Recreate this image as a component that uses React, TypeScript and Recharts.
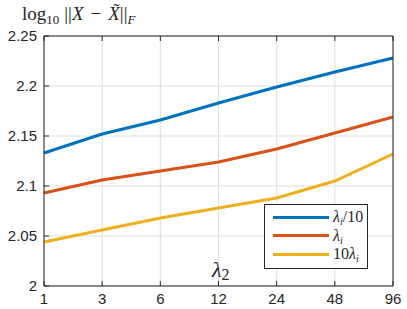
import React from 'react'
import {
  LineChart,
  Line,
  XAxis,
  YAxis,
  CartesianGrid,
} from 'recharts'

const categories = ['1', '3', '6', '12', '24', '48', '96']
const lambdaTenth = [2.133, 2.152, 2.166, 2.183, 2.199, 2.214, 2.228]
const lambdaOne = [2.093, 2.106, 2.115, 2.124, 2.137, 2.153, 2.169]
const lambdaTen = [2.044, 2.056, 2.068, 2.078, 2.088, 2.105, 2.132]
const yTicks = [2, 2.05, 2.1, 2.15, 2.2, 2.25]

const series = [
  { key: 'a', color: '#0072BD' },
  { key: 'b', color: '#D95319' },
  { key: 'c', color: '#EDB120' },
]

const data = categories.map((c, i) => ({
  x: c,
  a: lambdaTenth[i],
  b: lambdaOne[i],
  c: lambdaTen[i],
}))

const axisColor = '#262626'
const sans = '"Liberation Sans", Arial, Helvetica, sans-serif'
const serif = '"Liberation Serif", "Times New Roman", serif'

const LegendLabel = ({ name }: { name: string }) => {
  const lam = (
    <span>
      <i>λ</i>
      <sub style={{ fontSize: 10, verticalAlign: -3, lineHeight: 0 }}>
        <i>i</i>
      </sub>
    </span>
  )
  if (name === 'a') return <span>{lam}/10</span>
  if (name === 'b') return lam
  return <span>10{lam}</span>
}

const LegendBox = () => (
  <div
    style={{
      position: 'absolute',
      left: 264,
      top: 204,
      border: `1.5px solid ${axisColor}`,
      background: '#fff',
      width: 104,
      height: 65,
      boxSizing: 'border-box',
      padding: '3px 0 0 8px',
      fontFamily: serif,
      fontSize: 16,
      color: axisColor,
    }}
  >
    {series.map((s) => (
      <div
        key={s.key}
        style={{ display: 'flex', alignItems: 'center', height: 18.5 }}
      >
        <div
          style={{
            width: 56,
            height: 3,
            background: s.color,
            marginRight: 4,
          }}
        />
        <LegendLabel name={s.key} />
      </div>
    ))}
  </div>
)

export default function App() {
  return (
    <div style={{ position: 'absolute', left: 0, top: 0, width: 407, height: 309 }}>
      <LineChart
        width={407}
        height={309}
        data={data}
        margin={{ top: 35, right: 13, bottom: 0, left: 0 }}
      >
        <CartesianGrid stroke="#dfdfdf" strokeWidth={1} />
        <XAxis
          dataKey="x"
          height={23}
          tickSize={-5}
          tickMargin={12}
          stroke={axisColor}
          tick={{ fill: axisColor, fontFamily: sans, fontSize: 15 }}
          interval={0}
        />
        <XAxis
          dataKey="x"
          xAxisId="t"
          orientation="top"
          height={1}
          tickSize={-5}
          stroke={axisColor}
          tickFormatter={() => ''}
          interval={0}
        />
        <YAxis
          width={44}
          domain={[2, 2.25]}
          ticks={yTicks}
          tickSize={-5}
          tickMargin={12}
          stroke={axisColor}
          tick={{ fill: axisColor, fontFamily: sans, fontSize: 15 }}
        />
        <YAxis
          yAxisId="r"
          orientation="right"
          width={1}
          domain={[2, 2.25]}
          ticks={yTicks}
          tickSize={-5}
          stroke={axisColor}
          tickFormatter={() => ''}
        />
        {series.map((s) => (
          <Line
            key={s.key}
            dataKey={s.key}
            stroke={s.color}
            strokeWidth={3}
            dot={false}
            isAnimationActive={false}
          />
        ))}
      </LineChart>
      <LegendBox />
      <svg
        width={407}
        height={309}
        style={{ position: 'absolute', left: 0, top: 0, pointerEvents: 'none' }}
      >
        <text x={22} y={20} fontFamily={serif} fontSize={19} fill={axisColor}>
          log
          <tspan fontSize={13} dy={4}>10</tspan>
          <tspan dy={-4} dx={5}>||</tspan>
          <tspan fontStyle="italic">X</tspan>
          <tspan dx={7}>−</tspan>
          <tspan dx={7} fontStyle="italic">X̃</tspan>
          <tspan>||</tspan>
          <tspan fontSize={13} dy={4} fontStyle="italic">F</tspan>
        </text>
        <text x={212} y={277} fontFamily={serif} fontSize={22} fill={axisColor}>
          <tspan fontStyle="italic">λ</tspan>
          <tspan fontSize={16} dy={3}>2</tspan>
        </text>
      </svg>
    </div>
  )
}
